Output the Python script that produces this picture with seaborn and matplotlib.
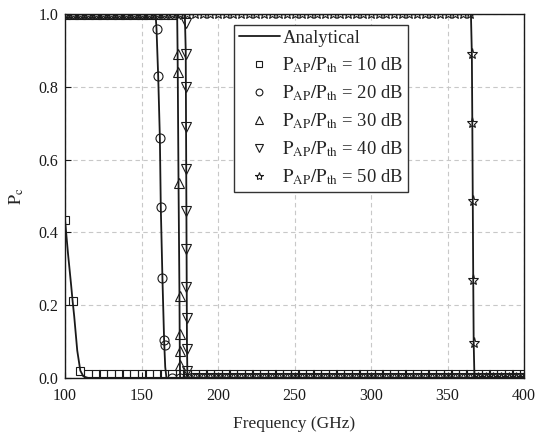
import matplotlib
matplotlib.use("Agg")
import matplotlib.pyplot as plt
from matplotlib.lines import Line2D
import pandas as pd
import seaborn as sns

# ---------------- data ----------------
# simulation frequency grid (GHz), 5 GHz steps
grid = list(range(100, 405, 5))

# P_AP/P_th = 10 dB (squares)
sim10_f = [100, 105, 110]
sim10_v = [0.435, 0.21, 0.02]
sim10_low_from = 115
sim10_low_val = 0.01
ana10_f = [100, 102, 104, 105, 106, 108, 110, 112, 115, 400]
ana10_v = [0.435, 0.34, 0.255, 0.21, 0.17, 0.075, 0.02, 0.004, 0.0, 0.0]

# 20 dB (circles)
sim20_f = [159.8, 160.9, 162.0, 162.6, 163.7, 164.8, 165.1]
sim20_v = [0.96, 0.83, 0.66, 0.47, 0.275, 0.105, 0.09]
sim20_high_to = 155
sim20_low_from = 170
ana20_f = [100, 159.2, 159.8, 160.9, 162.0, 162.6, 163.7, 164.8, 165.5, 166.3, 400]
ana20_v = [1.0, 1.0, 0.96, 0.83, 0.66, 0.47, 0.27, 0.10, 0.03, 0.0, 0.0]

# 30 dB (up triangles)
sim30_f = [173.9, 173.9, 174.4, 175.0, 175.0, 175.0, 175.1]
sim30_v = [0.89, 0.84, 0.535, 0.225, 0.12, 0.075, 0.035]
sim30_high_to = 170
sim30_low_from = 180
ana30_f = [100, 173.3, 173.6, 174.2, 174.8, 175.0, 175.2, 400]
ana30_v = [1.0, 1.0, 0.89, 0.53, 0.23, 0.08, 0.0, 0.0]

# 40 dB (down triangles)
sim40_f = [178.9, 179.0, 179.1, 179.15, 179.2, 179.3, 179.35, 179.4, 179.5, 179.55, 179.6]
sim40_v = [0.975, 0.89, 0.80, 0.69, 0.575, 0.46, 0.355, 0.25, 0.165, 0.08, 0.02]
sim40_high_to = 175
sim40_low_from = 185
ana40_f = [100, 178.3, 178.9, 179.3, 179.7, 180.0, 400]
ana40_v = [1.0, 1.0, 0.9, 0.5, 0.1, 0.0, 0.0]

# 50 dB (stars)
sim50_f = [365.9, 366.2, 366.5, 366.8, 367.1]
sim50_v = [0.89, 0.70, 0.485, 0.27, 0.095]
sim50_high_to = 365
sim50_low_from = 370
ana50_f = [100, 365.3, 365.9, 366.2, 366.5, 366.8, 367.1, 367.6, 400]
ana50_v = [1.0, 1.0, 0.89, 0.70, 0.485, 0.27, 0.095, 0.0, 0.0]

labels = [r"$\mathrm{P_{AP}/P_{th}}$ = 10 dB", r"$\mathrm{P_{AP}/P_{th}}$ = 20 dB",
          r"$\mathrm{P_{AP}/P_{th}}$ = 30 dB", r"$\mathrm{P_{AP}/P_{th}}$ = 40 dB",
          r"$\mathrm{P_{AP}/P_{th}}$ = 50 dB"]

x_ticks = [100, 150, 200, 250, 300, 350, 400]
y_ticks = [0.0, 0.2, 0.4, 0.6, 0.8, 1.0]

# ---------------- build tables ----------------
def sim_series(mid_f, mid_v, high_to=None, low_from=None, low_val=0.0):
    f, v = [], []
    if high_to is not None:
        hi = [g for g in grid if g <= high_to]
        f += hi
        v += [1.0] * len(hi)
    f += mid_f
    v += mid_v
    lo = [g for g in grid if g >= low_from]
    f += lo
    v += [low_val] * len(lo)
    return pd.DataFrame({"f": f, "v": v})

sims = [
    (sim_series(sim10_f, sim10_v, None, sim10_low_from, sim10_low_val), "s", 6.0),
    (sim_series(sim20_f, sim20_v, sim20_high_to, sim20_low_from), "o", 6.5),
    (sim_series(sim30_f, sim30_v, sim30_high_to, sim30_low_from), "^", 7.0),
    (sim_series(sim40_f, sim40_v, sim40_high_to, sim40_low_from), "v", 7.0),
    (sim_series(sim50_f, sim50_v, sim50_high_to, sim50_low_from), "*", 8.0),
]
anas = [(ana10_f, ana10_v), (ana20_f, ana20_v), (ana30_f, ana30_v),
        (ana40_f, ana40_v), (ana50_f, ana50_v)]

# ---------------- style ----------------
sns.set_theme(style="ticks")
plt.rcParams["font.family"] = ["Liberation Serif", "DejaVu Serif"]
plt.rcParams["mathtext.fontset"] = "stix"
plt.rcParams["xtick.direction"] = "in"
plt.rcParams["ytick.direction"] = "in"

fig = plt.figure(figsize=(5.35, 4.44), dpi=100)
ax = fig.add_axes([0.1215, 0.149, 0.858, 0.819])

for f, v in anas:
    sns.lineplot(x=f, y=v, ax=ax, color="#1a1a1a", linewidth=1.3,
                 estimator=None, sort=False, legend=False)

for df, mk, ms in sims:
    sns.lineplot(data=df, x="f", y="v", ax=ax, estimator=None, sort=False,
                 linestyle="", marker=mk, markersize=ms, markerfacecolor="none",
                 markeredgecolor="#1a1a1a", markeredgewidth=0.8, legend=False)

ax.set_xlim(100, 400)
ax.set_ylim(0, 1.0)
ax.set_xticks(x_ticks)
ax.set_yticks(y_ticks)
ax.set_yticklabels([f"{t:.1f}" for t in y_ticks])
ax.tick_params(labelsize=11.5, colors="#1a1a1a", length=4, width=0.8)
ax.tick_params(axis="x", pad=7)
ax.tick_params(axis="y", pad=5)
ax.grid(True, linestyle=(0, (4, 3)), color="#c8c8c8", linewidth=0.8)
ax.set_axisbelow(True)
for s in ax.spines.values():
    s.set_color("#1a1a1a")
    s.set_linewidth(1.0)

ax.set_xlabel("Frequency (GHz)", fontsize=12.5, labelpad=9)
ax.set_ylabel(r"$\mathrm{P_c}$", fontsize=13, labelpad=9)

handles = [Line2D([], [], color="#1a1a1a", linewidth=1.3, label="Analytical")]
for (df, mk, ms), lab in zip(sims, labels):
    handles.append(Line2D([], [], linestyle="", marker=mk, markersize=ms,
                          markerfacecolor="none", markeredgecolor="#1a1a1a",
                          markeredgewidth=0.8, label=lab))
leg = ax.legend(handles=handles, loc="upper left", bbox_to_anchor=(0.368, 0.97),
                borderaxespad=0, fontsize=13.4, frameon=True, fancybox=False,
                edgecolor="#333333", framealpha=1, handlelength=2.2,
                markerscale=0.75, labelspacing=0.45, borderpad=0.25,
                handletextpad=0.15)
leg.get_frame().set_linewidth(1.0)

fig.savefig("out.png", dpi=100)
